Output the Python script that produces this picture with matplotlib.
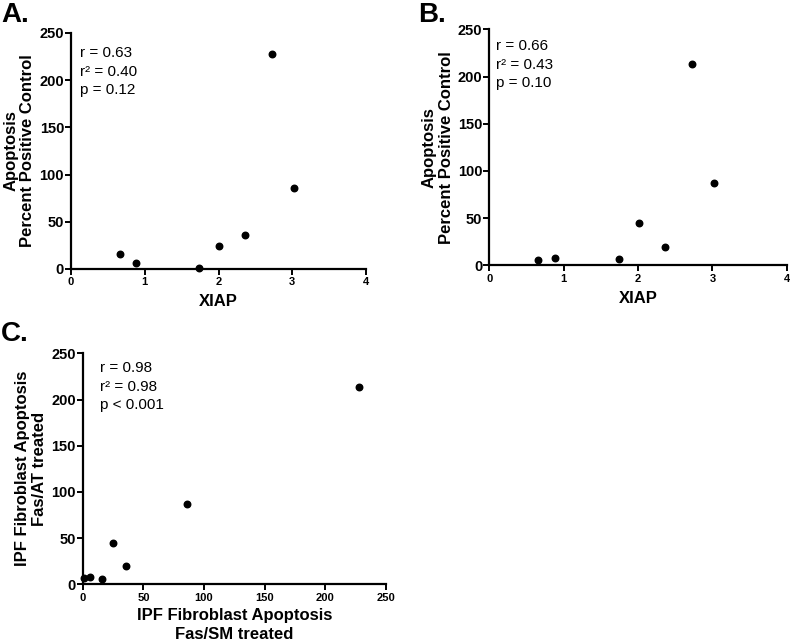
import matplotlib
matplotlib.use("Agg")
import matplotlib.pyplot as plt

plt.rcParams['font.family'] = ['Liberation Sans', 'DejaVu Sans']

# XIAP expression (x for panels A and B)
xiap = [0.66, 0.88, 1.74, 2.01, 2.36, 2.73, 3.02]

# Apoptosis, percent positive control
apop_sm = [16, 6.4, 1, 24.7, 36, 228, 86]     # panel A (Fas/SM)
apop_at = [5.6, 8, 6.3, 45, 19.7, 213, 87]    # panel B (Fas/AT)

stats_a = ["r = 0.63", "r\u00b2 = 0.40", "p = 0.12"]
stats_b = ["r = 0.66", "r\u00b2 = 0.43", "p = 0.10"]
stats_c = ["r = 0.98", "r\u00b2 = 0.98", "p < 0.001"]

x_ticks_xiap = [0, 1, 2, 3, 4]
y_ticks = [0, 50, 100, 150, 200, 250]
x_ticks_c = [0, 50, 100, 150, 200, 250]

W, H = 790, 642
fig = plt.figure(figsize=(W / 100, H / 100), dpi=100)


def make_axes(left, top, right, bottom):
    return fig.add_axes([left / W, 1 - bottom / H, (right - left) / W, (bottom - top) / H])


def style(ax, xticks, xmax):
    ax.set_xlim(0, xmax)
    ax.set_ylim(0, 250)
    ax.set_xticks(xticks)
    ax.set_yticks(y_ticks)
    for s in ['top', 'right']:
        ax.spines[s].set_visible(False)
    for s in ['left', 'bottom']:
        ax.spines[s].set_linewidth(1.6)
    ax.tick_params(axis='both', direction='out', width=1.4, length=4)
    ax.tick_params(axis='x', labelsize=8, pad=2)
    ax.tick_params(axis='y', labelsize=10.5, pad=1)
    for lab in ax.get_xticklabels() + ax.get_yticklabels():
        lab.set_fontweight('bold')


def stats_text(ax, x, y, lines):
    ax.text(x, y, "\n".join(lines), transform=ax.transAxes, ha='left', va='top',
            fontsize=11, linespacing=1.4)


lab_kw = dict(fontsize=12, fontweight='bold', linespacing=1.15)

# Panel A
ax = make_axes(71, 33, 366, 269)
ax.scatter(xiap, apop_sm, s=22, color='black', clip_on=False, zorder=3)
style(ax, x_ticks_xiap, 4)
ax.set_xlabel("XIAP", labelpad=5, **lab_kw)
ax.set_ylabel("Apoptosis\nPercent Positive Control", labelpad=3, **lab_kw)
stats_text(ax, 0.03, 0.943, stats_a)
fig.text(1 / W, 1 - 2 / H, "A.", fontsize=20, fontweight='bold', ha='left', va='top')

# Panel B
ax = make_axes(489.3, 29.3, 786.7, 265.3)
ax.scatter(xiap, apop_at, s=22, color='black', clip_on=False, zorder=3)
style(ax, x_ticks_xiap, 4)
ax.set_xlabel("XIAP", labelpad=5, **lab_kw)
ax.set_ylabel("Apoptosis\nPercent Positive Control", labelpad=3, **lab_kw)
stats_text(ax, 0.023, 0.958, stats_b)
fig.text(418 / W, 1 - 2 / H, "B.", fontsize=20, fontweight='bold', ha='left', va='top')

# Panel C
ax = make_axes(82.7, 353.3, 386, 584.3)
ax.scatter(apop_sm, apop_at, s=22, color='black', clip_on=False, zorder=3)
style(ax, x_ticks_c, 250)
ax.set_xlabel("IPF Fibroblast Apoptosis\nFas/SM treated", labelpad=4,
              fontsize=12, fontweight='bold', linespacing=1.3)
ax.set_ylabel("IPF Fibroblast Apoptosis\nFas/AT treated", labelpad=3, **lab_kw)
stats_text(ax, 0.057, 0.966, stats_c)
fig.text(1 / W, 1 - 321 / H, "C.", fontsize=20, fontweight='bold', ha='left', va='top')

fig.savefig("out.png", dpi=100)
